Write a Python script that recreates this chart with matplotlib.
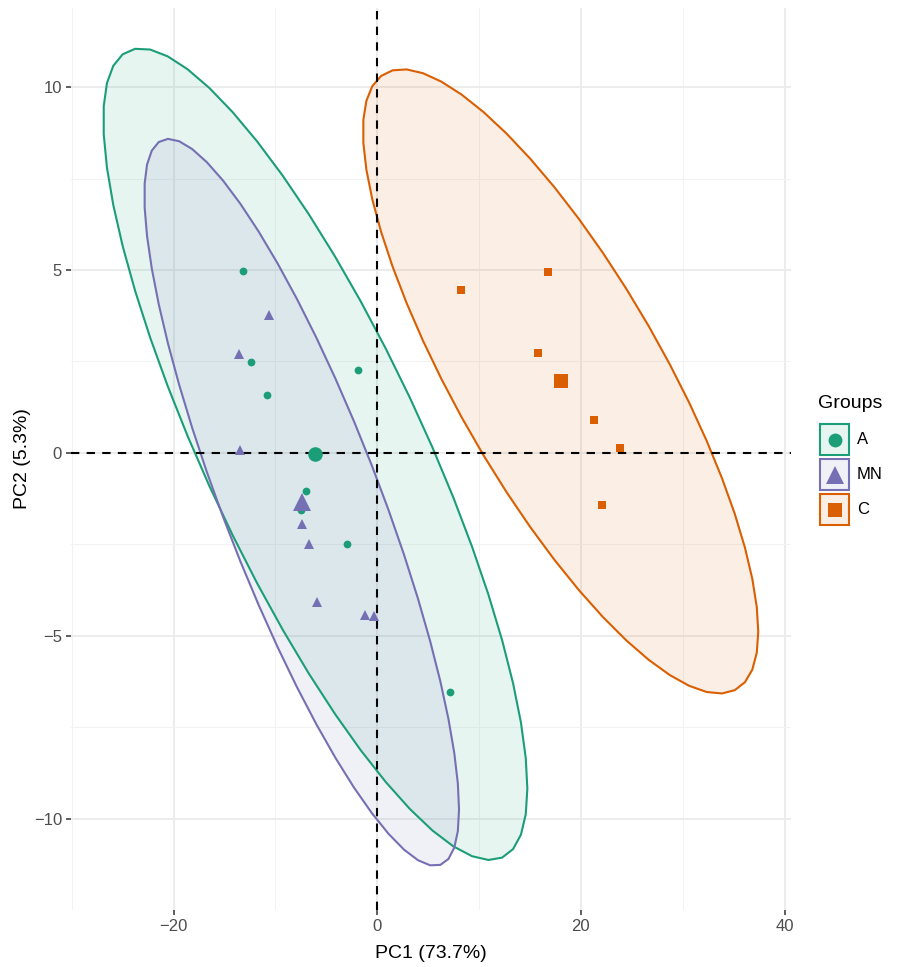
import numpy as np
import matplotlib
matplotlib.use("Agg")
import matplotlib.pyplot as plt
from matplotlib.patches import Polygon, Rectangle

plt.rcParams['font.family'] = ['Liberation Sans', 'DejaVu Sans']

# PCA scores per group
groups = ["A", "MN", "C"]
pc1_A = [-13.2, -12.44, -10.84, -1.87, -7.0, -7.49, -2.96, 7.19]
pc2_A = [4.98, 2.49, 1.58, 2.26, -1.03, -1.55, -2.48, -6.54]
pc1_MN = [-10.6, -13.6, -13.5, -7.39, -6.73, -5.94, -1.21, -0.36]
pc2_MN = [3.78, 2.70, 0.09, -1.94, -2.49, -4.09, -4.42, -4.45]
pc1_C = [16.78, 8.25, 15.83, 21.25, 23.84, 22.1]
pc2_C = [4.94, 4.44, 2.73, 0.90, 0.14, -1.42]

var_pc1 = 73.7
var_pc2 = 5.3
x_ticks = [-20, 0, 20, 40]
y_ticks = [-10, -5, 0, 5, 10]

colors = {"A": "#1B9E77", "MN": "#7570B3", "C": "#D95F02"}
markers = {"A": "o", "MN": "^", "C": "s"}
small_ms = {"A": 5.6, "MN": 7.6, "C": 5.8}
big_ms = {"A": 10.5, "MN": 13.5, "C": 10.0}

scores = {
    "A": (np.array(pc1_A), np.array(pc2_A)),
    "MN": (np.array(pc1_MN), np.array(pc2_MN)),
    "C": (np.array(pc1_C), np.array(pc2_C)),
}


def conf_ellipse(x, y, level=0.95, segments=51):
    """Normal-theory confidence ellipse (same construction as ggplot2 stat_ellipse)."""
    n = len(x)
    center = np.array([x.mean(), y.mean()])
    shape = np.cov(np.vstack([x, y]))
    dfn, dfd = 2, n - 1
    # quantile of F(2, dfd) in closed form
    qf = dfd / 2.0 * ((1 - level) ** (-2.0 / dfd) - 1)
    radius = np.sqrt(dfn * qf)
    chol_upper = np.linalg.cholesky(shape).T
    ang = np.arange(segments + 1) * 2 * np.pi / segments
    unit = np.column_stack([np.cos(ang), np.sin(ang)])
    return center + radius * unit @ chol_upper


ellipses = {g: conf_ellipse(*scores[g]) for g in groups}

W, H = 897, 967
fig = plt.figure(figsize=(W / 100, H / 100), dpi=100)

# panel limits: data extent expanded by 5 %
allpts = np.vstack(list(ellipses.values()))
xmin, xmax = allpts[:, 0].min(), allpts[:, 0].max()
ymin, ymax = allpts[:, 1].min(), allpts[:, 1].max()
dx, dy = 0.05 * (xmax - xmin), 0.05 * (ymax - ymin)

left_px, right_px, top_px, bot_px = 71, 791, 8, 910
ax = fig.add_axes([left_px / W, 1 - bot_px / H, (right_px - left_px) / W, (bot_px - top_px) / H])
ax.set_xlim(xmin - dx, xmax + dx)
ax.set_ylim(ymin - dy, ymax + dy)

for s in ax.spines.values():
    s.set_visible(False)

# grid
ax.set_xticks(x_ticks)
ax.set_yticks(y_ticks)
ax.set_xticks([-30, -10, 10, 30], minor=True)
ax.set_yticks([-12.5, -7.5, -2.5, 2.5, 7.5], minor=True)
ax.grid(which="major", color="#EBEBEB", linewidth=1.3, zorder=0)
ax.grid(which="minor", color="#F2F2F2", linewidth=0.7, zorder=0)
ax.set_axisbelow(True)
ax.tick_params(which="minor", length=0)
ax.tick_params(which="major", length=3.5, width=1.1, color="#333333",
               labelcolor="#4D4D4D", labelsize=12, pad=3)
ax.set_xticklabels([f"{t:g}".replace("-", "\u2212") for t in x_ticks])
ax.set_yticklabels([f"{t:g}".replace("-", "\u2212") for t in y_ticks])

# ellipses
for g in groups:
    e = ellipses[g]
    ax.add_patch(Polygon(e, closed=True, facecolor=colors[g], alpha=0.1,
                         edgecolor="none", zorder=1))
    ax.add_patch(Polygon(e, closed=True, facecolor="none", edgecolor=colors[g],
                         linewidth=1.5, zorder=1.1))

# reference lines
ax.axhline(0, color="black", linewidth=1.5, linestyle=(0, (4, 3.5)), zorder=2)
ax.axvline(0, color="black", linewidth=1.5, linestyle=(0, (4, 3.5)), zorder=2)

# points and centroids
for g in groups:
    x, y = scores[g]
    ax.plot(x, y, linestyle="none", marker=markers[g], ms=small_ms[g],
            color=colors[g], mew=0, zorder=3)
for g in groups:
    x, y = scores[g]
    ax.plot([x.mean()], [y.mean()], linestyle="none", marker=markers[g],
            ms=big_ms[g], color=colors[g], mew=0, zorder=4)

ax.set_xlabel(f"PC1 ({var_pc1}%)", fontsize=14, color="black", labelpad=8)
ax.set_ylabel(f"PC2 ({var_pc2}%)", fontsize=14, color="black", labelpad=2)

# legend
lg = fig.add_axes([0, 0, 1, 1])
lg.set_xlim(0, W)
lg.set_ylim(H, 0)
lg.axis("off")
lg.text(818, 404, "Groups", fontsize=14, va="center", ha="left", color="black")
key_top = [424, 459, 494]
for g, ty in zip(groups, key_top):
    lg.add_patch(Rectangle((820, ty), 29, 31, facecolor=colors[g], alpha=0.1,
                           edgecolor="none"))
    lg.add_patch(Rectangle((820, ty), 29, 31, facecolor="none",
                           edgecolor=colors[g], linewidth=1.5))
    lg.plot([834.5], [ty + 15.5], marker=markers[g], ms=big_ms[g] * 0.95,
            color=colors[g], mew=0, linestyle="none")
    lg.text(857, ty + 15.5, g, fontsize=12, va="center", ha="left", color="black")

fig.savefig("out.png", dpi=100)
